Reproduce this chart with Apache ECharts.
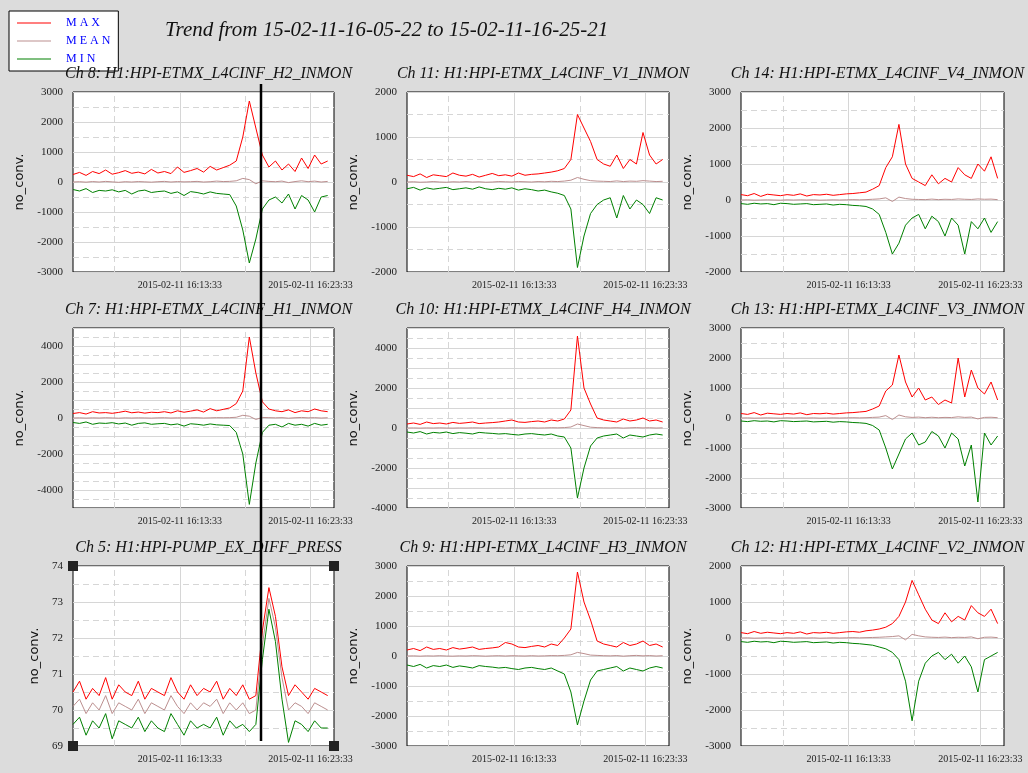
<!DOCTYPE html>
<html>
<head>
<meta charset="utf-8">
<script src="https://cdn.jsdelivr.net/npm/echarts@6.0.0/dist/echarts.min.js"></script>
<style>
html,body{margin:0;padding:0;background:#dcdcdc;}
#main{width:1028px;height:773px;}
</style>
</head>
<body>
<div id="main"></div>
<script>
// seconds since 16:05:22
var times = [0,30,60,90,120,150,180,210,240,270,300,330,360,390,420,450,480,510,540,570,
             600,630,660,690,720,750,780,810,840,870,900,930,960,990,1020,1050,1080,1110,1140,1170];

var ch8Max = [250,320,220,350,280,400,260,310,380,290,330,270,420,300,350,280,500,320,380,450,330,520,400,480,560,700,1500,2700,1800,900,500,700,400,600,350,800,450,900,600,700];
var ch8Mean = [0,10,-5,15,0,20,5,-10,10,0,15,5,-5,10,20,0,15,5,10,20,0,10,30,15,20,40,120,80,-60,40,20,10,30,-20,15,40,10,30,0,20];
var ch8Min = [-250,-300,-220,-350,-280,-300,-260,-330,-280,-400,-300,-270,-350,-320,-300,-380,-330,-450,-320,-350,-400,-330,-380,-400,-420,-800,-1600,-2700,-1900,-900,-600,-500,-700,-400,-900,-450,-600,-1000,-500,-450];

var ch11Max = [150,120,180,100,160,140,120,200,150,130,170,110,150,190,140,160,130,200,150,170,180,200,220,250,300,500,1500,1200,900,500,400,350,600,300,500,400,1100,600,400,500];
var ch11Mean = [0,5,-5,0,10,0,-5,5,0,10,0,5,-5,0,10,5,0,10,5,0,10,5,15,10,20,40,100,60,30,20,15,10,25,10,20,15,30,20,10,15];
var ch11Min = [-150,-120,-180,-130,-160,-140,-120,-170,-150,-130,-160,-110,-150,-170,-140,-160,-130,-180,-150,-170,-200,-180,-220,-250,-300,-600,-1900,-1200,-700,-500,-400,-350,-800,-300,-600,-400,-500,-700,-350,-400];

var ch14Max = [150,120,180,100,160,140,120,150,130,170,110,150,140,160,130,150,170,180,200,220,300,400,900,1200,2100,1000,600,500,400,700,450,600,500,900,700,600,1000,800,1200,600];
var ch14Mean = [0,5,-5,0,5,0,-5,5,0,5,0,5,-5,0,5,0,5,10,5,10,20,30,60,-40,80,40,20,15,10,25,10,20,15,30,20,15,30,20,25,10];
var ch14Min = [-100,-120,-90,-110,-100,-130,-90,-100,-120,-110,-100,-130,-120,-110,-140,-120,-130,-150,-160,-180,-250,-400,-900,-1500,-1200,-700,-500,-400,-800,-450,-600,-1000,-500,-700,-1500,-600,-800,-500,-900,-600];

var ch7Max = [250,300,220,350,280,300,260,310,380,290,330,270,320,300,350,280,400,320,380,450,330,520,400,480,560,800,1500,4500,2500,900,500,400,350,450,300,400,350,500,400,350];
var ch7Mean = [0,10,-5,10,0,15,5,-10,10,0,10,5,-5,10,15,0,10,5,10,15,0,10,20,15,20,40,150,100,-80,30,20,10,20,-10,15,30,10,20,0,15];
var ch7Min = [-250,-300,-220,-350,-280,-300,-260,-330,-280,-400,-300,-270,-350,-320,-300,-380,-330,-450,-320,-350,-400,-330,-380,-400,-420,-800,-2000,-4800,-2500,-800,-400,-350,-500,-300,-400,-350,-450,-300,-400,-350];

var ch10Max = [200,250,180,300,220,250,200,280,230,260,300,220,250,270,300,350,400,300,280,320,350,300,400,350,450,900,4600,2000,1200,500,400,350,300,450,350,400,500,350,400,300];
var ch10Mean = [0,5,-5,5,0,10,0,-5,5,0,10,5,-5,5,10,0,10,5,0,10,0,5,15,10,20,50,200,120,40,20,10,5,15,-5,10,20,5,15,0,10];
var ch10Min = [-200,-250,-180,-300,-220,-250,-200,-280,-230,-260,-300,-220,-250,-270,-300,-280,-320,-350,-300,-280,-320,-350,-300,-400,-450,-1000,-3500,-2000,-900,-500,-400,-350,-300,-500,-350,-400,-450,-350,-300,-350];

var ch13Max = [150,120,180,100,160,140,120,150,130,170,110,150,140,160,130,150,170,180,200,220,300,400,900,1100,2100,1200,700,1000,600,700,450,600,500,2000,700,1600,1000,800,1200,600];
var ch13Mean = [0,5,-5,0,5,0,-5,5,0,5,0,5,-5,0,5,0,5,10,5,10,20,30,80,-50,100,40,20,30,10,25,10,20,15,40,20,30,-30,20,25,10];
var ch13Min = [-100,-120,-90,-110,-100,-130,-90,-100,-120,-110,-100,-130,-120,-110,-140,-120,-130,-150,-160,-180,-250,-400,-1000,-1700,-1200,-700,-500,-900,-800,-450,-600,-1000,-500,-700,-1600,-900,-2800,-500,-900,-600];

var ch5Max = [70.5,70.8,70.3,70.6,70.4,70.9,70.3,70.7,70.5,70.4,70.8,70.3,70.6,70.5,70.4,70.9,70.5,70.3,70.7,70.4,70.6,70.5,70.8,70.3,70.6,70.4,70.7,70.3,70.4,72.2,73.4,72.6,71.2,70.4,70.7,70.5,70.3,70.6,70.5,70.4];
var ch5Mean = [70.1,70.3,69.9,70.2,70.0,70.4,69.9,70.2,70.1,70.0,70.3,69.9,70.2,70.1,70.0,70.4,70.1,69.9,70.2,70.0,70.2,70.1,70.3,69.9,70.2,70.0,70.2,69.9,70.0,71.8,73.1,72.3,70.9,70.0,70.2,70.1,69.9,70.2,70.1,70.0];
var ch5Min = [69.6,69.8,69.3,69.7,69.5,69.9,69.2,69.7,69.6,69.5,69.8,69.4,69.7,69.5,69.4,69.9,69.6,69.3,69.7,69.5,69.6,69.5,69.8,69.3,69.7,69.5,69.6,69.4,69.6,71.4,72.8,71.9,70.3,69.1,69.7,69.6,69.4,69.7,69.5,69.5];

var ch9Max = [200,250,180,300,220,250,200,280,230,260,300,220,250,270,300,450,400,300,280,320,350,300,400,350,600,900,2800,1800,1200,500,400,350,300,450,350,400,500,350,400,300];
var ch9Mean = [0,5,-5,5,0,10,0,-5,5,0,10,5,-5,5,10,0,10,5,0,10,0,5,15,10,20,40,120,80,30,20,10,5,15,-5,10,20,5,15,0,10];
var ch9Min = [-300,-350,-280,-400,-320,-350,-300,-380,-330,-360,-400,-320,-350,-370,-400,-380,-420,-450,-400,-380,-420,-450,-400,-500,-600,-1200,-2300,-1500,-800,-500,-450,-400,-350,-500,-400,-450,-500,-400,-350,-400];

var ch12Max = [150,120,180,130,160,140,120,150,130,170,110,150,140,160,130,150,170,180,160,200,220,250,300,400,600,1000,1600,1200,800,500,400,700,450,600,500,900,700,600,800,400];
var ch12Mean = [0,5,-5,0,5,0,-5,5,0,5,0,5,-5,0,5,0,5,10,5,10,15,20,30,40,60,-50,100,60,30,20,15,25,10,20,15,30,-20,20,25,10];
var ch12Min = [-100,-120,-90,-110,-100,-130,-90,-100,-120,-110,-100,-130,-120,-110,-140,-120,-130,-150,-160,-180,-200,-250,-300,-400,-600,-1200,-2300,-1200,-700,-500,-400,-600,-450,-700,-500,-800,-1500,-600,-500,-400];

var xLabelValues = [491, 1091];
var xLabelText = {491: '2015-02-11 16:13:33', 1091: '2015-02-11 16:23:33'};

// title, data, yMin, yMax, interval, labelStep
var panels = [
  ['Ch 8: H1:HPI-ETMX_L4CINF_H2_INMON', ch8Max, ch8Mean, ch8Min, -3000, 3000, 1000, 1000],
  ['Ch 11: H1:HPI-ETMX_L4CINF_V1_INMON', ch11Max, ch11Mean, ch11Min, -2000, 2000, 1000, 1000],
  ['Ch 14: H1:HPI-ETMX_L4CINF_V4_INMON', ch14Max, ch14Mean, ch14Min, -2000, 3000, 1000, 1000],
  ['Ch 7: H1:HPI-ETMX_L4CINF_H1_INMON', ch7Max, ch7Mean, ch7Min, -5000, 5000, 1000, 2000],
  ['Ch 10: H1:HPI-ETMX_L4CINF_H4_INMON', ch10Max, ch10Mean, ch10Min, -4000, 5000, 1000, 2000],
  ['Ch 13: H1:HPI-ETMX_L4CINF_V3_INMON', ch13Max, ch13Mean, ch13Min, -3000, 3000, 1000, 1000],
  ['Ch 5: H1:HPI-PUMP_EX_DIFF_PRESS', ch5Max, ch5Mean, ch5Min, 69, 74, 1, 1],
  ['Ch 9: H1:HPI-ETMX_L4CINF_H3_INMON', ch9Max, ch9Mean, ch9Min, -3000, 3000, 1000, 1000],
  ['Ch 12: H1:HPI-ETMX_L4CINF_V2_INMON', ch12Max, ch12Mean, ch12Min, -3000, 2000, 1000, 1000]
];
var lefts = [73, 407, 741], widths = [261, 262, 263], tops = [92, 328, 566], H = 180;

var grid = [], xAxis = [], yAxis = [], series = [], titles = [];
panels.forEach(function (p, i) {
  var col = i % 3, row = Math.floor(i / 3);
  grid.push({left: lefts[col], top: tops[row], width: widths[col], height: H, show: true,
    backgroundColor: '#fff', borderColor: '#000', borderWidth: 1});
  titles.push({text: p[0], left: lefts[col] + widths[col] / 2, top: tops[row] - 31, textAlign: 'center',
    textStyle: {fontFamily: 'Liberation Serif', fontStyle: 'italic', fontWeight: 'normal', fontSize: 16, color: '#111'}});
  xAxis.push({type: 'value', gridIndex: i, min: 0, max: 1199, splitLine: {show: false},
    axisLine: {show: false}, axisTick: {show: false},
    axisLabel: {customValues: xLabelValues, fontFamily: 'Liberation Serif', fontSize: 10, color: '#222', margin: 8,
      formatter: function (v) { return xLabelText[v] || ''; }}});
  var step = p[7], small = p[6] < 10;
  yAxis.push({type: 'value', gridIndex: i, min: p[4], max: p[5], interval: p[6],
    name: 'no_conv.', nameLocation: 'middle', nameGap: small ? 32 : 47, nameRotate: 90,
    nameTextStyle: {fontFamily: 'DejaVu Sans', fontSize: 13, color: '#111'},
    axisLine: {show: false}, axisTick: {show: false},
    axisLabel: {fontFamily: 'Liberation Serif', fontSize: 11, color: '#222', margin: 10,
      formatter: function (v) { return Math.round(v) % step === 0 ? String(v) : ''; }},
    splitLine: {lineStyle: {color: '#d6d6d6'}},
    minorTick: {show: false, splitNumber: 2},
    minorSplitLine: {show: true, lineStyle: {color: '#d6d6d6', type: [6, 4]}}});
  var names = ['M A X', 'M E A N', 'M I N'], colors = ['#ff0000', '#bc8f8f', '#008000'];
  [p[1], p[2], p[3]].forEach(function (arr, k) {
    var s = {name: names[k], type: 'line', xAxisIndex: i, yAxisIndex: i, symbol: 'none',
      lineStyle: {width: 1, color: colors[k]}, itemStyle: {color: colors[k]},
      data: times.map(function (t, j) { return [t, arr[j]]; }), z: 3 + k};
    if (k === 0) {
      s.markLine = {silent: true, symbol: 'none', label: {show: false}, z: 1,
        data: [
          {xAxis: 191, lineStyle: {color: '#d6d6d6', type: [6, 4], width: 1}},
          {xAxis: 491, lineStyle: {color: '#d6d6d6', type: 'solid', width: 1}},
          {xAxis: 791, lineStyle: {color: '#d6d6d6', type: [6, 4], width: 1}},
          {xAxis: 1091, lineStyle: {color: '#d6d6d6', type: 'solid', width: 1}}
        ]};
    }
    series.push(s);
  });
});

titles.push({text: 'Trend from 15-02-11-16-05-22 to 15-02-11-16-25-21', left: 160, top: 15,
  textStyle: {fontFamily: 'Liberation Serif', fontStyle: 'italic', fontWeight: 'normal', fontSize: 21, color: '#111'}});

var corners = [[73, 566], [334, 566], [73, 746], [334, 746]].map(function (c) {
  return {type: 'rect', shape: {x: c[0] - 5, y: c[1] - 5, width: 10, height: 10}, style: {fill: '#222'}, z: 100};
});

var chart = echarts.init(document.getElementById('main'));
chart.setOption({
  backgroundColor: '#dcdcdc',
  animation: false,
  title: titles,
  legend: {orient: 'vertical', left: 9, top: 11, padding: [6, 8, 6, 8], itemGap: 6, itemWidth: 34, itemHeight: 8,
    icon: 'path://M0,4 L40,4 L40,5 L0,5 Z',
    backgroundColor: '#fff', borderColor: '#000', borderWidth: 1,
    textStyle: {fontFamily: 'Liberation Serif', fontSize: 12, color: '#0000ff', padding: [0, 0, 0, 10]},
    data: ['M A X', 'M E A N', 'M I N']},
  grid: grid, xAxis: xAxis, yAxis: yAxis, series: series,
  graphic: corners.concat([
    {type: 'line', shape: {x1: 261, y1: 84, x2: 261, y2: 741}, style: {stroke: '#000', lineWidth: 2.5}, z: 100}
  ])
});
</script>
</body>
</html>
